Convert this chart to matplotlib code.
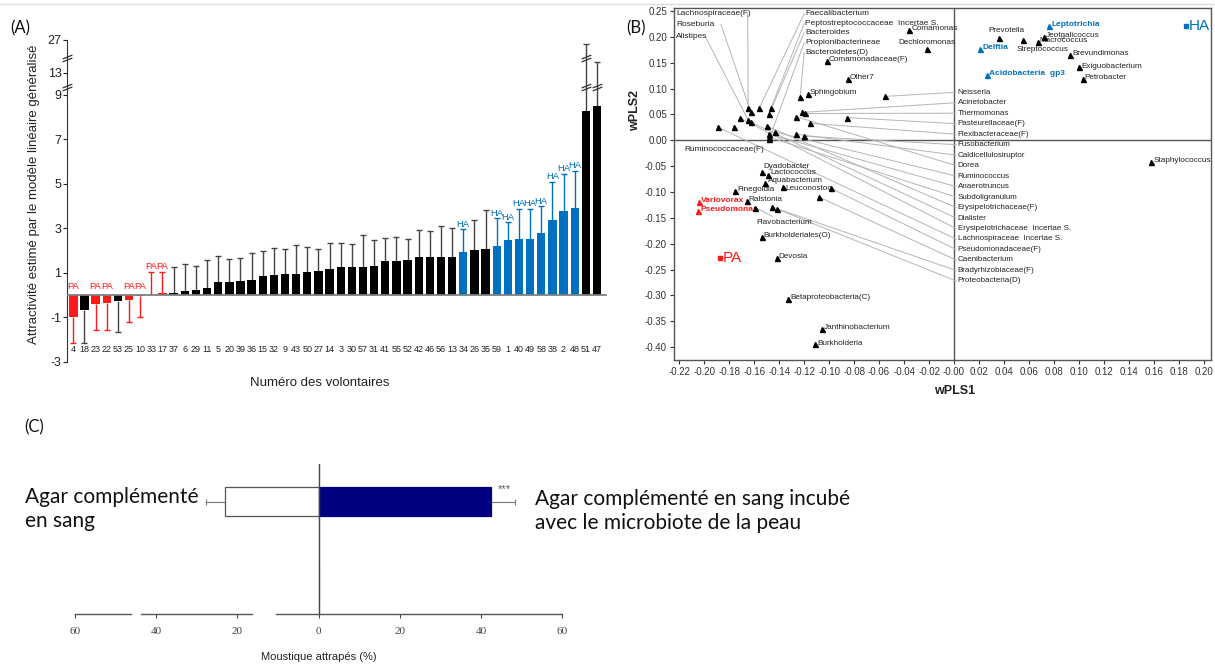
import numpy as np
import matplotlib
matplotlib.use("Agg")
import matplotlib.pyplot as plt
from matplotlib.lines import Line2D
from matplotlib.path import Path

plt.rcParams['font.family'] = ['Liberation Sans', 'DejaVu Sans']

# ---------------- (A) data ----------------
volunteers = ['4', '18', '23', '22', '53', '25', '10', '33', '17', '37', '6', '29', '11', '5', '20', '39',
              '36', '15', '32', '9', '43', '50', '27', '14', '3', '30', '57', '31', '41', '55', '52', '42',
              '46', '56', '13', '34', '26', '35', '59', '1', '40', '49', '58', '38', '2', '48', '51', '47']
attract = [-1.0, -0.68, -0.40, -0.33, -0.28, -0.22, -0.02, 0.02, 0.08, 0.12, 0.18, 0.25, 0.33, 0.61, 0.61, 0.66,
           0.70, 0.88, 0.93, 0.97, 0.97, 1.06, 1.07, 1.19, 1.25, 1.25, 1.25, 1.33, 1.52, 1.52, 1.58, 1.70,
           1.73, 1.73, 1.73, 1.94, 2.03, 2.10, 2.21, 2.48, 2.54, 2.54, 2.79, 3.39, 3.79, 3.91, 8.3, 8.5]
err_end = [-2.15, -2.15, -1.55, -1.55, -1.67, -1.22, -1.0, 1.05, 1.05, 1.28, 1.40, 1.33, 1.57, 1.76, 1.61, 1.66,
           1.90, 1.97, 2.13, 2.09, 2.28, 2.16, 2.07, 2.37, 2.37, 2.30, 2.70, 2.49, 2.57, 2.61, 2.54, 2.93,
           2.90, 3.13, 3.01, 2.96, 3.40, 3.85, 3.45, 3.28, 3.88, 3.88, 3.99, 5.09, 5.46, 5.58, 25.5, 17.7]
pa_group = ['4', '23', '22', '25', '10', '33', '17']
ha_group = ['34', '59', '1', '40', '49', '58', '38', '2', '48']

# ---------------- (B) data ----------------
pt_names = ['Comamonadaceae(F)', 'Other7', 'Sphingobium', 'Comamonas', 'Dechloromonas', 'Prevotella',
            'Streptococcus', 'Jeotgalicoccus', 'Macrococcus', 'Brevundimonas', 'Exiguobacterium',
            'Petrobacter', 'Staphylococcus', 'Dyadobacter', 'Lactococcus', 'Aquabacterium', 'Leuconostoc',
            'Finegoldia', 'Ralstonia', 'Flavobacterium', 'Burkholderiales(O)', 'Devosia',
            'Betaproteobacteria(C)', 'Janthinobacterium', 'Burkholderia']
pt_x = [-0.102, -0.085, -0.117, -0.036, -0.022, 0.036, 0.055, 0.072, 0.067, 0.093, 0.100, 0.103, 0.158,
        -0.154, -0.149, -0.151, -0.137, -0.175, -0.166, -0.159, -0.154, -0.142, -0.133, -0.106, -0.111]
pt_y = [0.154, 0.118, 0.089, 0.214, 0.176, 0.197, 0.195, 0.200, 0.191, 0.166, 0.141, 0.118, -0.042,
        -0.062, -0.068, -0.083, -0.091, -0.098, -0.118, -0.130, -0.187, -0.228, -0.307, -0.365, -0.395]

blue_names = ['Leptotrichia', 'Delftia', 'Acidobacteria  gp3']
blue_x = [0.076, 0.021, 0.026]
blue_y = [0.222, 0.176, 0.126]
red_names = ['Variovorax', 'Pseudomonas']
red_x = [-0.204, -0.205]
red_y = [-0.120, -0.137]
grp_names = ['PA', 'HA']
grp_x = [-0.187, 0.186]
grp_y = [-0.228, 0.222]

right_names = ['Neisseria', 'Acinetobacter', 'Thermomonas', 'Pasteurellaceae(F)', 'Flexibacteraceae(F)',
               'Fusobacterium', 'Caldicellulosiruptor', 'Dorea', 'Ruminococcus', 'Anaerotruncus',
               'Subdoligranulum', 'Erysipelotrichaceae(F)', 'Dialister', 'Erysipelotrichaceae  Incertae S.',
               'Lachnospiraceae  Incertae S.', 'Pseudomonadaceae(F)', 'Caenibacterium',
               'Bradyrhizobiaceae(F)', 'Proteobacteria(D)']
right_x = [-0.0552, -0.1218, -0.1192, -0.0856, -0.1154, -0.1200, -0.1266, -0.1266, -0.1432, -0.1480,
           -0.1480, -0.1494, -0.1626, -0.1714, -0.1888, -0.0984, -0.1080, -0.1456, -0.1416]
right_y = [0.085, 0.054, 0.052, 0.044, 0.033, 0.008, 0.012, 0.046, 0.016, 0.012, 0.006, 0.027, 0.035,
           0.043, 0.025, -0.093, -0.110, -0.129, -0.133]
top_names = ['Faecalibacterium', 'Peptostreptococcaceae  Incertae S.', 'Bacteroides', 'Propionibacterineae',
             'Bacteroidetes(D)']
top_x = [-0.156, -0.1466, -0.1482, -0.148, -0.1232]
top_y = [0.062, 0.062, 0.050, 0.002, 0.083]
left_names = ['Lachnospiraceae(F)', 'Roseburia', 'Alistipes']
left_x = [-0.1648, -0.1626, -0.165]
left_y = [0.062, 0.054, 0.040]
rumino_x, rumino_y = -0.176, 0.025

# ---------------- (C) data ----------------
caught_blood = 23.1
caught_blood_err = 4.6
caught_micro = 42.6
caught_micro_err = 5.9

RED = '#ff1a1a'
BLUE = '#0070c0'

fig = plt.figure(figsize=(12.15, 6.71), dpi=100)
W, H = 1215.0, 671.0

fig.add_artist(Line2D([0, 1], [1 - 4 / H] * 2, color='#dddddd', lw=1, transform=fig.transFigure))

# ======================= panel A =======================
def fwd(y):
    y = np.asarray(y, float)
    return np.where(y <= 9, y, np.where(y <= 13, 9 + (y - 9) * 0.2475, 9.99 + (y - 13) * 0.1057))

def inv(f):
    f = np.asarray(f, float)
    return np.where(f <= 9, f, np.where(f <= 9.99, 9 + (f - 9) / 0.2475, 13 + (f - 9.99) / 0.1057))

axa = fig.add_axes([67 / W, 1 - 362 / H, 540 / W, 322 / H])
axa.set_yscale('function', functions=(fwd, inv))
xs = np.arange(len(volunteers))
cols, ecols = [], []
for v in volunteers:
    if v in pa_group:
        cols.append(RED); ecols.append(RED)
    elif v in ha_group:
        cols.append(BLUE); ecols.append(BLUE)
    else:
        cols.append('black'); ecols.append('#444444')

axa.vlines(xs, attract, err_end, colors=ecols, lw=1.0, zorder=1)
for x, e, c in zip(xs, err_end, ecols):
    axa.plot(x, e, marker='_', markersize=5, mew=1.0, color=c, zorder=1)
axa.bar(xs, attract, width=0.75, color=cols, zorder=2)
axa.axhline(0, color='#808080', lw=1.3, zorder=3)

axa.set_xlim(-0.57, 47.9)
axa.set_ylim(-3, 27)
axa.set_yticks([-3, -1, 1, 3, 5, 7, 9, 13, 27])
axa.set_yticklabels(['-3', '-1', '1', '3', '5', '7', '9', '13', '27'])
axa.tick_params(axis='y', labelsize=9, length=3, width=0.8, pad=1, colors='#222222')
axa.set_xticks([])
for s in ['top', 'right', 'bottom']:
    axa.spines[s].set_visible(False)
axa.spines['left'].set_color('#333333')

for x, v in zip(xs, volunteers):
    axa.text(x, -2.45, v, ha='center', va='center', fontsize=6.5, color='#222222')

for x, v, a, e in zip(xs, volunteers, attract, err_end):
    if v in pa_group:
        y0 = 0.38 if a < 0 else e + 0.05
        axa.text(x, y0, 'PA', ha='center', va='center' if a < 0 else 'bottom', fontsize=6.8, color=RED)
    elif v in ha_group:
        axa.text(x, e + 0.03, 'HA', ha='center', va='bottom', fontsize=6.8, color=BLUE)

brk = Path([(-1, -0.1), (1, 0.7), (-1, -0.7), (1, 0.1)], [Path.MOVETO, Path.LINETO, Path.MOVETO, Path.LINETO])
for yb in [19.4, 10.5]:
    axa.plot(0, yb, marker=brk, markersize=7, mew=0.9, color='#333333', ls='none',
             transform=axa.get_yaxis_transform(), clip_on=False)
axa.plot([46, 46, 47], [19.4, 10.5, 10.5], marker=brk, markersize=7, mew=0.9, color='#333333', ls='none',
         zorder=4)

axa.set_ylabel('Attractivité estimé par le modèle linéaire généralisé', fontsize=9.5, color='#222222')
axa.yaxis.set_label_coords(-0.05, 0.52)
fig.text(320 / W, 1 - 383 / H, 'Numéro des volontaires', ha='center', va='center', fontsize=9.5,
         color='#222222')

# ======================= panel B =======================
axb = fig.add_axes([674 / W, 1 - 360 / H, 537 / W, 352 / H])
axb.set_xlim(-0.2242, 0.2057)
axb.set_ylim(-0.425, 0.256)
axb.axhline(0, color='#555555', lw=1.0, zorder=1)
axb.axvline(0, color='#555555', lw=1.0, zorder=1)
LC = '#b4b4b4'
tri = dict(marker='^', markersize=3.6, color='black', ls='none', zorder=4)

right_label_y = np.linspace(0.093, -0.272, len(right_names))
for n, x, y, ly in zip(right_names, right_x, right_y, right_label_y):
    axb.plot([x, 0.0015], [y, ly], color=LC, lw=0.7, zorder=2)
    axb.text(0.0030, ly, n, fontsize=5.8, ha='left', va='center', color='#222222')
axb.plot(right_x, right_y, **tri)

top_label_y = [0.245, 0.226, 0.208, 0.189, 0.170]
for n, x, y, ly in zip(top_names, top_x, top_y, top_label_y):
    axb.plot([x, -0.1200], [y, ly], color=LC, lw=0.7, zorder=2)
    axb.text(-0.1192, ly, n, fontsize=6, ha='left', va='center', color='#222222')
axb.plot(top_x, top_y, **tri)

left_label_y = [0.245, 0.224, 0.200]
left_line_x = [-0.1652, -0.1866, -0.1990]
for n, x, y, ly, lx in zip(left_names, left_x, left_y, left_label_y, left_line_x):
    axb.plot([x, lx], [y, ly], color=LC, lw=0.7, zorder=2)
    axb.text(-0.2226, ly, n, fontsize=6, ha='left', va='center', color='#222222')
axb.plot(left_x, left_y, **tri)

axb.plot(rumino_x, rumino_y, **tri)
axb.text(-0.2160, -0.017, 'Ruminococcaceae(F)', fontsize=6, ha='left', va='center', color='#222222')

special = {'Dechloromonas': (0, 5, 'center'), 'Prevotella': (5, 6, 'center'),
           'Streptococcus': (14, -7, 'center'), 'Flavobacterium': (1, -11, 'left'),
           'Dyadobacter': (1.5, 4.5, 'left'), 'Lactococcus': (1.5, 2.0, 'left'),
           'Aquabacterium': (1.5, 2.0, 'left'), 'Leuconostoc': (1.5, -0.8, 'left')}
axb.plot(pt_x, pt_y, **tri)
for n, x, y in zip(pt_names, pt_x, pt_y):
    dx, dy, ha = special.get(n, (1.5, 1.0, 'left'))
    kw = {}
    if n == 'Flavobacterium':
        kw['arrowprops'] = dict(arrowstyle='-', color=LC, lw=0.7, shrinkA=0, shrinkB=1)
    axb.annotate(n, (x, y), xytext=(dx, dy), textcoords='offset points', fontsize=5.9, ha=ha,
                 va='center', color='#222222', **kw)

axb.plot(blue_x, blue_y, marker='^', markersize=3.6, color=BLUE, ls='none', zorder=4)
for n, x, y in zip(blue_names, blue_x, blue_y):
    axb.annotate(n, (x, y), xytext=(1.5, 1.0), textcoords='offset points', fontsize=6, ha='left',
                 va='center', color=BLUE, fontweight='bold')
axb.plot(red_x, red_y, marker='^', markersize=3.6, color=RED, ls='none', zorder=4)
for n, x, y in zip(red_names, red_x, red_y):
    axb.annotate(n, (x, y), xytext=(1.5, 1.0), textcoords='offset points', fontsize=6, ha='left',
                 va='center', color=RED, fontweight='bold')
for n, x, y, c in zip(grp_names, grp_x, grp_y, [RED, BLUE]):
    axb.plot(x, y, marker='s', markersize=3.2, color=c, ls='none', zorder=4)
    axb.annotate(n, (x, y), xytext=(2, 0), textcoords='offset points', fontsize=11, ha='left',
                 va='center', color=c)

xt = np.round(np.arange(-0.22, 0.2001, 0.02), 2)
axb.set_xticks(xt)
axb.set_xticklabels(['-0.00' if abs(t) < 1e-9 else '%.2f' % t for t in xt])
yt = np.round(np.arange(-0.40, 0.2501, 0.05), 2)
axb.set_yticks(yt)
axb.set_yticklabels(['0.00' if abs(t) < 1e-9 else '%.2f' % t for t in yt])
axb.tick_params(labelsize=7, length=3, width=0.8, pad=2, colors='#333333')
for s in axb.spines.values():
    s.set_color('#555555')
    s.set_linewidth(1.0)
axb.set_xlabel('wPLS1', fontsize=9, fontweight='bold', color='#222222')
axb.xaxis.set_label_coords(0.523, -0.071)
axb.set_ylabel('wPLS2', fontsize=9, fontweight='bold', color='#222222')
axb.yaxis.set_label_coords(-0.061, 0.71)

# ======================= panel C =======================
axc = fig.add_axes([75 / W, 1 - 614 / H, 487 / W, 150 / H])
axc.set_xlim(-60, 60)
axc.set_ylim(0, 1)
axc.barh([0.75], [-caught_blood], height=0.19, color='white', edgecolor='#555555', lw=0.9, zorder=2)
axc.barh([0.75], [caught_micro], height=0.19, color='#000080', edgecolor='#000080', lw=0.9, zorder=2)
axc.errorbar([-caught_blood], [0.75], xerr=[[caught_blood_err], [0]], fmt='none', ecolor='#777777',
             elinewidth=0.8, capsize=2, capthick=0.8, zorder=1)
axc.errorbar([caught_micro], [0.75], xerr=[[0], [caught_micro_err]], fmt='none', ecolor='#777777',
             elinewidth=0.8, capsize=2, capthick=0.8, zorder=1)
axc.text(caught_micro + 1.5, 0.83, '***', fontsize=8, color='#555555', ha='left', va='center')
axc.axvline(0, color='#444444', lw=1.0, zorder=3)
axc.plot([0, 0], [0.09, 0.33], color='#3a3aa0', lw=0.8, zorder=4)

for s in axc.spines.values():
    s.set_visible(False)
axis_pieces = [(-60, -46.3), (-43.8, -16.5), (-10.5, 60)]
for a, b in axis_pieces:
    axc.plot([a, b], [0, 0], color='#555555', lw=1.0, clip_on=False)
axc.set_yticks([])
axc.set_xticks([-60, -40, -20, 0, 20, 40, 60])
axc.set_xticklabels(['60', '40', '20', '0', '20', '40', '60'], fontfamily='Liberation Serif')
axc.tick_params(axis='x', labelsize=8, length=3, width=0.8, pad=6, colors='#444444')
axc.set_xlabel('Moustique attrapés (%)', fontsize=8, color='#222222', labelpad=12)

fig.text(25 / W, 1 - 509 / H, 'Agar complémenté\nen sang', ha='left', va='center', fontsize=15,
         family=['Lato', 'DejaVu Sans'], linespacing=1.25, color='#111111')
fig.text(535 / W, 1 - 511 / H, 'Agar complémenté en sang incubé\navec le microbiote de la peau',
         ha='left', va='center', fontsize=15, family=['Lato', 'DejaVu Sans'], linespacing=1.25,
         color='#111111')

for lab, px, py in [('(A)', 10, 28), ('(B)', 626, 28), ('(C)', 24, 427)]:
    fig.text(px / W, 1 - py / H, lab, ha='left', va='center', fontsize=12, family=['Lato', 'DejaVu Sans'],
             color='#111111')

fig.savefig('out.png', dpi=100)
